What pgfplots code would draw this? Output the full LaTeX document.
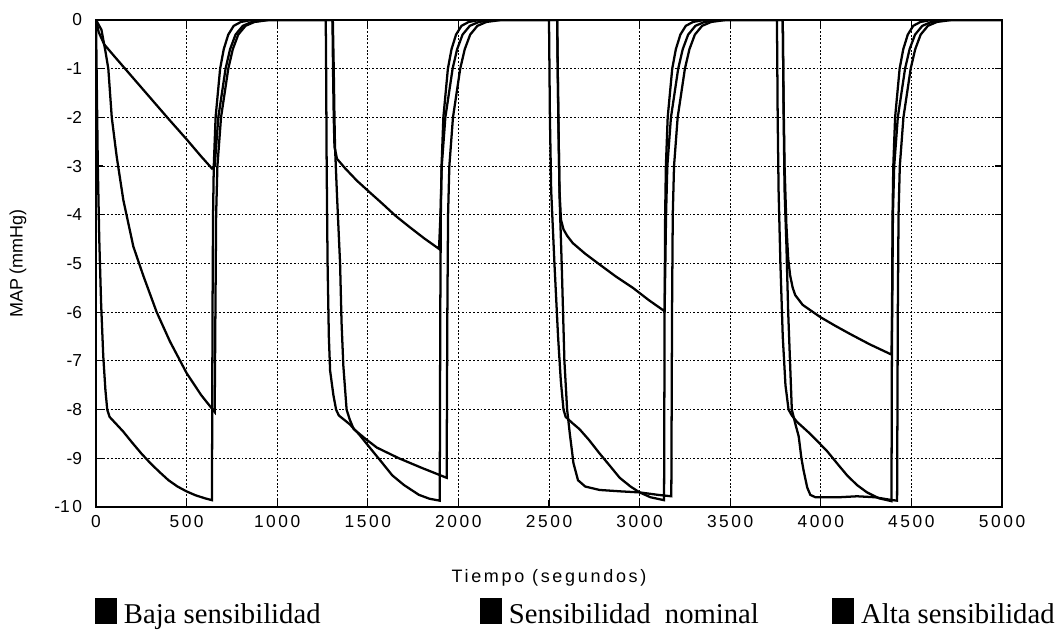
\documentclass[border=0pt]{standalone}
\usepackage{fontspec}
\setmainfont{Liberation Serif}
\newfontfamily\tickfont[LetterSpace=15]{Liberation Sans}
\newfontfamily\labfont{Liberation Sans}
\usepackage{pgfplots}
\usepackage{pgfplotstable}
\pgfplotsset{compat=1.18}

% Alta sensibilidad
\pgfplotstableread{
t y
0 0
5 -1.5
10 -3
18 -4.5
28 -5.8
40 -6.9
52 -7.6
62 -8.0
75 -8.15
100 -8.25
150 -8.45
200 -8.68
250 -8.9
300 -9.1
350 -9.28
400 -9.45
450 -9.58
500 -9.68
550 -9.76
600 -9.82
640 -9.86
643 -6
646 -4
650 -3
660 -2
685 -1
705 -0.6
730 -0.3
760 -0.12
800 -0.04
860 0
1268 0
1270 -1
1273 -3
1278 -5
1285 -6.5
1292 -7.2
1310 -7.7
1325 -8.0
1340 -8.12
1400 -8.3
1450 -8.5
1515 -8.8
1570 -9.05
1635 -9.35
1700 -9.55
1782 -9.75
1840 -9.83
1897 -9.87
1900 -6
1903 -4
1907 -3
1917 -2
1942 -1
1962 -0.6
1987 -0.3
2017 -0.12
2057 -0.04
2117 0
2500 0
2505 -2
2512 -3.5
2530 -5
2550 -6.5
2565 -7.4
2580 -8.0
2592 -8.15
2630 -8.28
2668 -8.4
2720 -8.62
2779 -8.9
2835 -9.15
2890 -9.4
2950 -9.58
3000 -9.7
3060 -9.8
3135 -9.86
3138 -6
3141 -4
3145 -3
3155 -2
3180 -1
3200 -0.6
3225 -0.3
3255 -0.12
3295 -0.04
3355 0
3758 0
3762 -2
3767 -3.5
3777 -5
3790 -6.5
3805 -7.5
3822 -8.0
3840 -8.12
3868 -8.25
3942 -8.5
4034 -8.85
4100 -9.15
4145 -9.35
4200 -9.55
4255 -9.7
4320 -9.82
4390 -9.88
4393 -6
4396 -4
4400 -3
4410 -2
4435 -1
4455 -0.6
4480 -0.3
4510 -0.12
4550 -0.04
4610 0
5000 0
}\dataA

% Baja sensibilidad
\pgfplotstableread{
t y
0 0
15 -0.25
45 -0.5
100 -0.74
200 -1.17
300 -1.6
400 -2.03
500 -2.45
580 -2.8
640 -3.05
655 -3
675 -2
715 -1
740 -0.6
770 -0.3
810 -0.12
860 -0.04
940 0
1305 0
1308 -1
1312 -2
1316 -2.6
1330 -2.85
1376 -3.05
1440 -3.3
1505 -3.52
1580 -3.77
1653 -4.02
1730 -4.25
1810 -4.48
1893 -4.7
1901 -4
1908 -3
1928 -2
1968 -1
1993 -0.6
2023 -0.3
2063 -0.12
2113 -0.04
2193 0
2545 0
2548 -1
2552 -2.2
2558 -3.5
2566 -4.1
2580 -4.3
2600 -4.43
2631 -4.58
2700 -4.8
2779 -5.02
2870 -5.27
2963 -5.5
3050 -5.75
3138 -5.98
3142 -5
3146 -4
3153 -3
3173 -2
3213 -1
3238 -0.6
3268 -0.3
3308 -0.12
3358 -0.04
3438 0
3790 0
3794 -1.5
3800 -3
3810 -4.2
3820 -4.9
3831 -5.25
3845 -5.5
3859 -5.65
3900 -5.85
3997 -6.1
4080 -6.28
4163 -6.45
4270 -6.66
4390 -6.87
4394 -6
4398 -4
4405 -3
4425 -2
4465 -1
4490 -0.6
4520 -0.3
4560 -0.12
4610 -0.04
4690 0
5000 0
}\dataB

% Sensibilidad nominal
\pgfplotstableread{
t y
0 0
30 -0.2
50 -0.6
68 -1
87 -2
114 -2.8
151 -3.7
206 -4.65
261 -5.25
335 -6.0
408 -6.6
500 -7.25
580 -7.7
655 -8.05
659 -6
663 -4
670 -3
690 -2
730 -1
755 -0.6
785 -0.3
825 -0.12
875 -0.04
955 0
1307 0
1312 -1
1316 -2
1319 -2.6
1330 -3.6
1347 -5
1355 -6.2
1365 -7.1
1383 -8.0
1400 -8.2
1422 -8.4
1487 -8.6
1550 -8.78
1672 -9.0
1800 -9.2
1935 -9.4
1939 -6
1943 -4
1950 -3
1970 -2
2010 -1
2035 -0.6
2065 -0.3
2105 -0.12
2155 -0.04
2235 0
2545 0
2550 -1.5
2558 -3.6
2570 -5
2585 -7
2600 -8
2615 -8.5
2635 -9.1
2660 -9.45
2700 -9.58
2779 -9.65
2900 -9.68
3000 -9.7
3100 -9.75
3175 -9.78
3179 -6
3183 -4
3190 -3
3210 -2
3250 -1
3275 -0.6
3305 -0.3
3345 -0.12
3395 -0.04
3475 0
3790 0
3795 -2
3800 -3.5
3810 -4.6
3820 -6
3830 -7
3840 -8
3860 -8.3
3878 -8.55
3893 -9.0
3905 -9.25
3925 -9.6
3942 -9.75
3970 -9.8
4100 -9.8
4200 -9.78
4300 -9.8
4380 -9.85
4421 -9.87
4425 -6
4429 -4
4436 -3
4456 -2
4496 -1
4521 -0.6
4551 -0.3
4591 -0.12
4641 -0.04
4721 0
5000 0
}\dataC

\newcommand{\hy}{{\labfont-}}
\begin{document}
\begin{tikzpicture}
\useasboundingbox (-72pt,-98.25pt) rectangle (724.5pt,380.25pt);
\begin{axis}[
  at={(0pt,0pt)}, anchor=south west,
  scale only axis,
  width=679.5pt, height=365.25pt,
  xmin=0, xmax=5000, ymin=-10, ymax=0,
  xtick={0,500,1000,1500,2000,2500,3000,3500,4000,4500,5000},
  xticklabels={0,500,1000,1500,2000,2500,3000,3500,4000,4500,5000},
  ytick={-10,-9,-8,-7,-6,-5,-4,-3,-2,-1,0},
  yticklabels={\hy10,\hy9,\hy8,\hy7,\hy6,\hy5,\hy4,\hy3,\hy2,\hy1,0},
  grid=major,
  major grid style={black, line width=0.75pt, dash pattern=on 1.4pt off 1.4pt},
  axis line style={black, line width=1.1pt},
  tick style={black, line width=0.9pt},
  major tick length=5pt,
  tick label style={font=\tickfont\fontsize{13}{15}\selectfont},
  xticklabel style={yshift=-3pt},
  yticklabel style={xshift=-7pt},
  xlabel={Tiempo (segundos)},
  xlabel style={font=\tickfont\fontsize{13.5}{15}\selectfont, at={(axis description cs:0.5,0)}, anchor=center, yshift=-53pt},
  ylabel={MAP (mmHg)},
  ylabel style={font=\labfont\fontsize{13.5}{15}\selectfont, at={(axis description cs:-0.0861,0.5)}, anchor=center},
  legend columns=3,
  legend image code/.code={\fill[black] (0pt,-6pt) rectangle (15pt,12pt);},
  legend style={draw=none, fill=none, inner sep=0pt, outer sep=0pt,
    at={(axis description cs:0,0)}, anchor=north west, xshift=-0.75pt, yshift=-68pt,
    font=\fontsize{21.5}{23}\selectfont, column sep=0pt,
    nodes={inner sep=0pt}},
]
\addplot[black, line width=1.7pt] table[x=t,y=y] {\dataB};
\addlegendentry{\makebox[272pt][l]{\hspace{5pt}Baja sensibilidad}}
\addplot[black, line width=1.7pt] table[x=t,y=y] {\dataC};
\addlegendentry{\makebox[247.5pt][l]{\hspace{5pt}Sensibilidad\ \ nominal}}
\addplot[black, line width=1.7pt] table[x=t,y=y] {\dataA};
\addlegendentry{\hspace{5pt}Alta sensibilidad}
\end{axis}
\end{tikzpicture}
\end{document}
